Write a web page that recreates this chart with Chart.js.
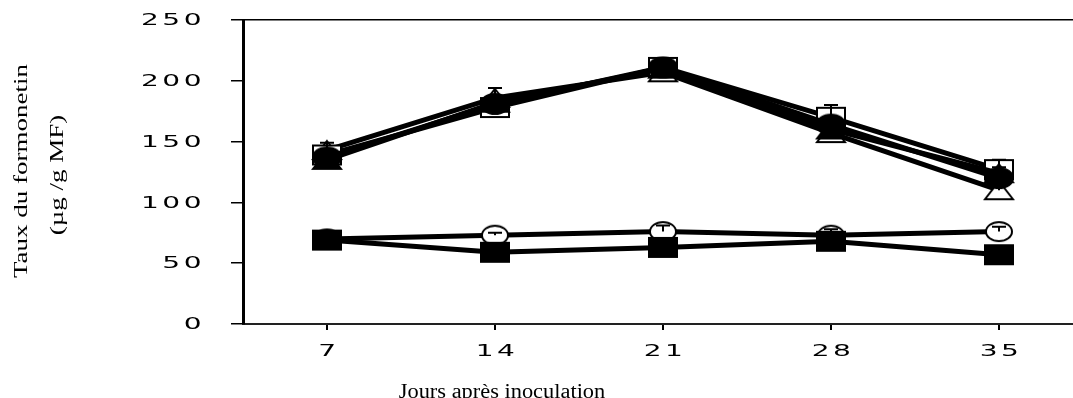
<!DOCTYPE html>
<html>
<head>
<meta charset="utf-8">
<script src="https://cdn.jsdelivr.net/npm/chart.js@4.4.1/dist/chart.umd.min.js"></script>
<style>
  html, body { margin: 0; padding: 0; background: #fff; overflow: hidden; }
  #wrap { width: 1100px; height: 398px; }
</style>
</head>
<body>
<div id="wrap"><canvas id="chart"></canvas></div>
<script>
const days = ['7', '14', '21', '28', '35'];

// upper group
const triOpen  = [143, 186, 207, 157, 110];
const sqOpen   = [139, 178, 211, 170, 127];
const circFill = [137, 181, 211, 164, 120];
const triFill  = [135, 182, 210, 160, 124];
// lower group
const circOpen = [70, 73, 76, 73, 76];
const sqFill   = [69, 59, 63, 68, 57];

// error bars (upper side only)
const triOpenErr  = [6, 8, 5, 6, 5];
const sqOpenErr   = [5, 6, 6, 10, 8];
const circFillErr = [4, 5, 5, 6, 6];
const triFillErr  = [4, 5, 5, 5, 5];
const circOpenErr = [3, 2, 5, 5, 4];
const sqFillErr   = [3, 0, 5, 0, 7];

const yTicks = [0, 50, 100, 150, 200, 250];

function marker(shape, filled, w, h) {
  const c = document.createElement('canvas');
  c.width = w + 4; c.height = h + 4;
  const g = c.getContext('2d');
  g.lineWidth = 2;
  g.fillStyle = filled ? '#000' : '#fff';
  g.strokeStyle = '#000';
  g.beginPath();
  if (shape === 'rect') g.rect(2, 2, w, h);
  else if (shape === 'circle') g.ellipse(w / 2 + 2, h / 2 + 2, w / 2, h / 2, 0, 0, Math.PI * 2);
  else { g.moveTo(2 + w / 2, 2); g.lineTo(2 + w, 2 + h); g.lineTo(2, 2 + h); g.closePath(); }
  g.fill();
  g.stroke();
  return c;
}

function series(data, errs, style) {
  return {
    data, errs,
    borderColor: '#000',
    borderWidth: 5,
    tension: 0,
    pointStyle: style,
    pointRadius: 12,
    pointHoverRadius: 12
  };
}

const errorBars = {
  id: 'errorBars',
  afterDatasetsDraw(chart) {
    const ctx = chart.ctx, xs = chart.scales.x, ys = chart.scales.y;
    ctx.save();
    ctx.strokeStyle = '#000';
    ctx.lineWidth = 2;
    chart.data.datasets.forEach(ds => {
      ds.data.forEach((v, j) => {
        const e = ds.errs[j];
        if (!e) return;
        const x = xs.getPixelForValue(j);
        const y0 = ys.getPixelForValue(v);
        const y1 = ys.getPixelForValue(v + e);
        ctx.beginPath();
        ctx.moveTo(x, y0); ctx.lineTo(x, y1);
        ctx.moveTo(x - 7, y1); ctx.lineTo(x + 7, y1);
        ctx.stroke();
      });
    });
    ctx.restore();
  }
};

// wide, stretched labels like the original figure
function wideText(ctx, text, x, y, sx, align) {
  ctx.save();
  ctx.translate(x, y);
  ctx.scale(sx, 1);
  ctx.textAlign = align;
  ctx.fillText(text, 0, 0);
  ctx.restore();
}

const labels = {
  id: 'labels',
  afterDraw(chart) {
    const ctx = chart.ctx, xs = chart.scales.x, ys = chart.scales.y;
    ctx.save();
    ctx.fillStyle = '#000';
    ctx.textBaseline = 'middle';
    ctx.font = '16px "DejaVu Sans"';
    ctx.letterSpacing = '2px';
    ys.ticks.forEach((t, i) => {
      wideText(ctx, String(t.value), 205, ys.getPixelForTick(i) + 1, 1.75, 'right');
    });
    xs.ticks.forEach((t, i) => {
      wideText(ctx, days[i], xs.getPixelForTick(i) + 2, 352, 1.75, 'center');
    });
    ctx.letterSpacing = '0px';
    ctx.font = '18px "Liberation Serif"';
    ctx.save();
    ctx.translate(22, 171);
    ctx.rotate(-Math.PI / 2);
    wideText(ctx, 'Taux du formonetin', 0, 0, 1.5, 'center');
    ctx.restore();
    ctx.save();
    ctx.translate(58, 175);
    ctx.rotate(-Math.PI / 2);
    wideText(ctx, '(µg /g MF)', 0, 0, 1.5, 'center');
    ctx.restore();
    ctx.font = '20px "Liberation Serif"';
    wideText(ctx, 'Jours après inoculation', 502, 393, 1.12, 'center');
    ctx.restore();
  }
};

new Chart(document.getElementById('chart'), {
  type: 'line',
  data: {
    labels: days,
    datasets: [
      series(circFill, circFillErr, marker('circle', true, 28, 20)),
      series(triFill, triFillErr, marker('tri', true, 28, 18)),
      series(sqFill, sqFillErr, marker('rect', true, 28, 19)),
      series(sqOpen, sqOpenErr, marker('rect', false, 28, 19)),
      series(triOpen, triOpenErr, marker('tri', false, 28, 18)),
      series(circOpen, circOpenErr, marker('circle', false, 26, 19))
    ]
  },
  options: {
    responsive: true,
    maintainAspectRatio: false,
    devicePixelRatio: 1,
    animation: false,
    layout: { padding: { top: 20, right: 12, left: 0, bottom: 0 } },
    plugins: { legend: { display: false }, tooltip: { enabled: false } },
    scales: {
      x: {
        offset: true,
        afterFit(s) { s.height = 74; },
        border: { color: '#222', width: 2 },
        grid: { drawOnChartArea: false, tickLength: 6, tickColor: '#000', lineWidth: 2 },
        ticks: { display: false, autoSkip: false, maxRotation: 0 }
      },
      y: {
        min: 0, max: 250,
        afterFit(s) { s.width = 243; },
        afterBuildTicks(s) { s.ticks = yTicks.map(v => ({ value: v })); },
        border: { color: '#000', width: 3 },
        grid: {
          color: c => (c.tick && c.tick.value === 250 ? '#000' : 'transparent'),
          tickColor: '#000',
          tickLength: 12,
          lineWidth: 1.5
        },
        ticks: { display: false }
      }
    }
  },
  plugins: [errorBars, labels]
});
</script>
</body>
</html>
